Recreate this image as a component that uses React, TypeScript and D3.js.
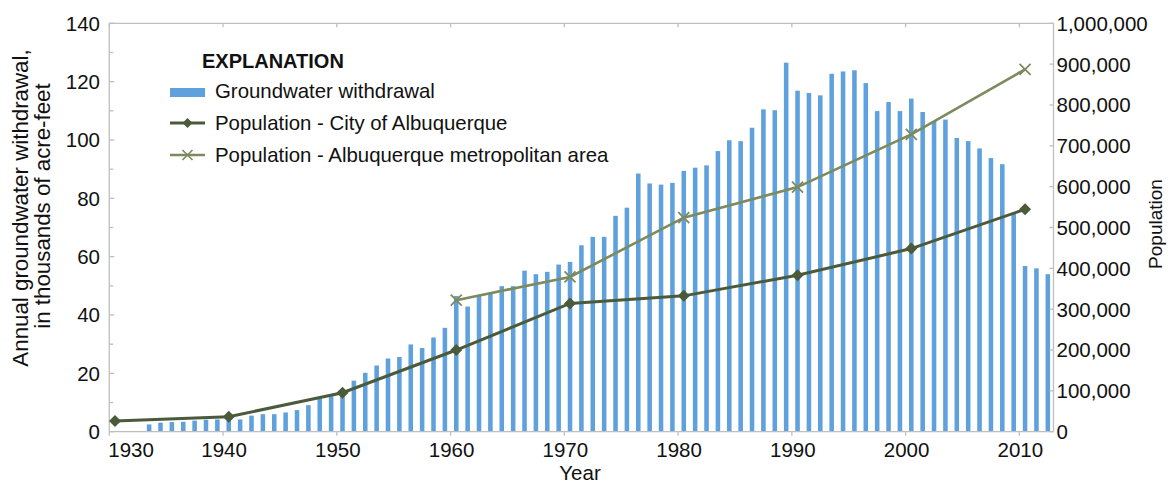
import React from "react";
import * as d3 from "d3";

const barYears: number[] = d3.range(1933, 2013);
const withdrawal: number[] = [
  2.5, 3.1, 3.3, 3.4, 3.8, 4.1, 4.2, 4.5, 4.2, 5.5,
  6.0, 6.0, 6.6, 7.4, 9.1, 11.4, 12.2, 14.0, 17.5, 20.2,
  22.7, 25.1, 25.6, 29.9, 28.7, 32.3, 35.6, 46.5, 42.9, 46.5,
  47.4, 49.9, 49.9, 55.2, 54.0, 54.8, 57.3, 58.2, 63.9, 66.8,
  66.8, 74.0, 76.8, 88.5, 85.1, 84.7, 85.3, 89.4, 90.5, 91.3,
  96.2, 99.9, 99.6, 104.2, 110.5, 110.2, 126.5, 116.9, 116.1, 115.3,
  122.7, 123.5, 123.9, 119.5, 109.9, 113.0, 109.9, 114.2, 109.6, 106.5,
  107.0, 100.7, 99.6, 97.1, 93.8, 91.7, 75.0, 56.8, 56.0, 54.0,
];

const cityYears: number[] = [1930, 1940, 1950, 1960, 1970, 1980, 1990, 2000, 2010];
const cityPop: number[] = [26200, 36700, 95400, 200000, 314000, 332600, 383100, 448400, 544500];

const metroYears: number[] = [1960, 1970, 1980, 1990, 2000, 2010];
const metroPop: number[] = [322000, 379000, 524000, 599000, 728000, 887000];

const allYears: number[] = d3.range(1930, 2013);
const decadeTicks: number[] = [1930, 1940, 1950, 1960, 1970, 1980, 1990, 2000, 2010];
const leftTicks: number[] = [0, 20, 40, 60, 80, 100, 120, 140];
const leftMinor: number[] = [10, 30, 50, 70, 90, 110, 130];
const rightTicks: number[] = d3.range(0, 1000001, 100000);

const legendItems: string[] = [
  "Groundwater withdrawal",
  "Population - City of Albuquerque",
  "Population - Albuquerque metropolitan area",
];

const W = 1171;
const H = 484;
const X0 = 109.3;
const X1 = 1053.5;
const Y0 = 431.7;
const Y1 = 23.3;

const BAR = "#5fa1dc";
const CITY = "#4b5a3a";
const METRO = "#7c8a5e";
const AXIS = "#bfbfbf";
const FONT = "'Liberation Sans', Arial, sans-serif";

export default function App() {
  const xBand = d3.scaleBand<number>().domain(allYears).range([X0, X1]).paddingInner(0.6).paddingOuter(0.3);
  const step = xBand.step();
  const xc = (yr: number) => (xBand(yr) as number) + xBand.bandwidth() / 2;
  const xEdge = (yr: number) => X0 + (yr - 1930) * step;
  const y = d3.scaleLinear().domain([0, 140]).range([Y0, Y1]);
  const yR = d3.scaleLinear().domain([0, 1000000]).range([Y0, Y1]);
  const fmt = d3.format(",");

  const cityLine = d3.line<number>().x((_, i) => xc(cityYears[i])).y((d) => yR(d))(cityPop) as string;
  const metroLine = d3.line<number>().x((_, i) => xc(metroYears[i])).y((d) => yR(d))(metroPop) as string;

  const diamond = (cx: number, cy: number, r: number) =>
    `M${cx},${cy - r}L${cx + r},${cy}L${cx},${cy + r}L${cx - r},${cy}Z`;
  const cross = (cx: number, cy: number, r: number) =>
    `M${cx - r},${cy - r}L${cx + r},${cy + r}M${cx - r},${cy + r}L${cx + r},${cy - r}`;

  const legX = 170;
  const legTextX = 215;
  const legBase = [98, 130, 162];

  return (
    <svg width={W} height={H} style={{ position: "absolute", left: 0, top: 0, background: "#fff" }} fontFamily={FONT}>
      {/* bars */}
      {barYears.map((yr, i) => (
        <rect key={yr} x={xBand(yr)} y={y(withdrawal[i])} width={xBand.bandwidth()} height={Y0 - y(withdrawal[i])} fill={BAR} />
      ))}
      {/* frame */}
      <line x1={X0} x2={X1} y1={Y1} y2={Y1} stroke={AXIS} strokeWidth={1.3} />
      <line x1={X0} x2={X1} y1={Y0} y2={Y0} stroke={AXIS} strokeWidth={1.3} />
      <line x1={X0} x2={X0} y1={Y1} y2={Y0} stroke={AXIS} strokeWidth={1.3} />
      <line x1={X1} x2={X1} y1={Y1} y2={Y0} stroke={AXIS} strokeWidth={1.3} />
      {/* x ticks */}
      {decadeTicks.map((yr) => (
        <g key={yr}>
          <line x1={xEdge(yr)} x2={xEdge(yr)} y1={Y0} y2={Y0 + 4} stroke={AXIS} strokeWidth={1.3} />
          <line x1={xEdge(yr)} x2={xEdge(yr)} y1={Y1} y2={Y1 + 4} stroke={AXIS} strokeWidth={1.3} />
          <text
            x={yr === 1930 ? X0 - 1 : xEdge(yr) + 1}
            y={457}
            fontSize={20.5}
            textAnchor={yr === 1930 ? "start" : "middle"}
            fill="#111"
          >
            {yr}
          </text>
        </g>
      ))}
      {/* left ticks */}
      {leftTicks.map((v) => (
        <g key={v}>
          <line x1={X0} x2={X0 + 5} y1={y(v)} y2={y(v)} stroke={AXIS} strokeWidth={1.3} />
          <text x={100} y={y(v)} dy="0.36em" fontSize={20.5} textAnchor="end" fill="#111">
            {v}
          </text>
        </g>
      ))}
      {leftMinor.map((v) => (
        <line key={v} x1={X0} x2={X0 + 4} y1={y(v)} y2={y(v)} stroke={AXIS} strokeWidth={1.3} />
      ))}
      {/* right ticks */}
      {rightTicks.map((v) => (
        <g key={v}>
          <line x1={X1 - 4} x2={X1} y1={yR(v)} y2={yR(v)} stroke={AXIS} strokeWidth={1.3} />
          <text x={X1 + 3} y={yR(v)} dy="0.36em" fontSize={20.5} textAnchor="start" fill="#111">
            {fmt(v)}
          </text>
        </g>
      ))}
      {/* lines */}
      <path d={metroLine} fill="none" stroke={METRO} strokeWidth={2.6} />
      {metroYears.map((yr, i) => (
        <path key={yr} d={cross(xc(yr), yR(metroPop[i]), 5.5)} stroke={METRO} strokeWidth={1.8} fill="none" />
      ))}
      <path d={cityLine} fill="none" stroke={CITY} strokeWidth={3} />
      {cityYears.map((yr, i) => (
        <path key={yr} d={diamond(xc(yr), yR(cityPop[i]), 6)} fill={CITY} />
      ))}
      {/* axis titles */}
      <text transform={`translate(28,208) rotate(-90)`} fontSize={22.3} textAnchor="middle" fill="#111">
        Annual groundwater withdrawal,
      </text>
      <text transform={`translate(50,206) rotate(-90)`} fontSize={22.3} textAnchor="middle" fill="#111">
        in thousands of acre-feet
      </text>
      <text transform={`translate(1162,224) rotate(-90)`} fontSize={19} textAnchor="middle" fill="#111">
        Population
      </text>
      <text x={580} y={480} fontSize={20.5} textAnchor="middle" fill="#111">
        Year
      </text>
      {/* legend */}
      <text x={202} y={68} fontSize={20} fontWeight="bold" fill="#111">
        EXPLANATION
      </text>
      <rect x={legX} y={88} width={35} height={9} fill={BAR} />
      <line x1={legX} x2={legX + 35} y1={123} y2={123} stroke={CITY} strokeWidth={3} />
      <path d={diamond(legX + 17.5, 123, 5)} fill={CITY} />
      <line x1={legX} x2={legX + 35} y1={155} y2={155} stroke={METRO} strokeWidth={2.6} />
      <path d={cross(legX + 17.5, 155, 5)} stroke={METRO} strokeWidth={1.6} fill="none" />
      {legendItems.map((t, i) => (
        <text key={t} x={legTextX} y={legBase[i]} fontSize={20.4} fill="#111">
          {t}
        </text>
      ))}
    </svg>
  );
}
